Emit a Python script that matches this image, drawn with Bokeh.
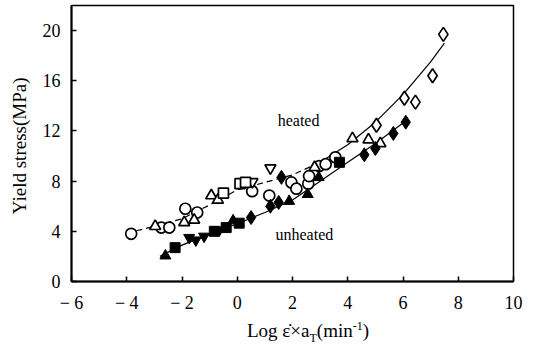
from bokeh.plotting import figure
from bokeh.models import Range1d, FixedTicker, Label, Div
from bokeh.layouts import column
from bokeh.embed import file_html
from bokeh.resources import INLINE

# ---- data ----
x_ticks = [-6, -4, -2, 0, 2, 4, 6, 8, 10]
y_ticks = [0, 4, 8, 12, 16, 20]

# heated (open markers)
heated_circle_x = [-3.84, -2.75, -2.46, -1.88, -1.45, 0.54, 1.16, 1.96, 2.14, 2.57, 2.6, 2.97, 3.2, 3.55]
heated_circle_y = [3.8, 4.3, 4.3, 5.8, 5.5, 7.2, 6.85, 7.9, 7.4, 7.8, 8.4, 9.2, 9.35, 9.9]
heated_tri_x = [-2.97, -1.92, -1.56, -0.94, -0.7, 2.8, 4.17, 4.75, 5.18]
heated_tri_y = [4.4, 4.7, 4.9, 6.85, 6.5, 9.1, 11.4, 11.3, 11.0]
heated_itri_x = [0.55, 1.2]
heated_itri_y = [7.95, 9.05]
heated_sq_x = [-0.5, 0.1, 0.3]
heated_sq_y = [7.05, 7.8, 7.9]
heated_dia_x = [5.04, 6.05, 6.45, 7.07, 7.46]
heated_dia_y = [12.45, 14.6, 14.3, 16.4, 19.7]

# unheated (filled markers)
unheated_tri_x = [-2.6, -0.15, 1.88, 2.55, 2.95]
unheated_tri_y = [2.05, 4.85, 6.4, 6.95, 8.3]
unheated_sq_x = [-2.25, -0.83, -0.4, 0.07, 3.7]
unheated_sq_y = [2.7, 4.0, 4.3, 4.65, 9.5]
unheated_itri_x = [-1.74, -1.5, -1.2, -0.65]
unheated_itri_y = [3.5, 3.3, 3.6, 4.1]
unheated_dia_x = [0.5, 1.2, 1.5, 1.6, 4.6, 5.0, 5.65, 6.1]
unheated_dia_y = [5.1, 6.0, 6.3, 8.3, 10.1, 10.6, 11.8, 12.7]

# fitted curves
heated_curve_x = [-4, -3, -2, -1, 0, 1, 2, 3, 4, 5, 6, 7, 7.5]
heated_curve_y = [3.85, 4.4, 5.0, 6.1, 7.3, 7.9, 8.5, 9.5, 10.9, 12.7, 14.9, 17.5, 19.0]
unheated_curve_x = [-2.8, -2, -1, 0, 1, 2, 3, 4, 5, 6.1]
unheated_curve_y = [2.0, 2.9, 3.8, 4.6, 5.5, 6.5, 8.0, 9.5, 11.0, 12.8]

FONT = "Liberation Serif"

p = figure(width=533, height=315, output_backend="svg", toolbar_location=None,
           x_range=Range1d(-6, 10), y_range=Range1d(0, 22))
p.min_border_left = 71
p.min_border_right = 20
p.min_border_top = 5
p.min_border_bottom = 33
p.background_fill_color = "white"
p.border_fill_color = "white"
p.grid.visible = False
p.outline_line_color = "black"
p.outline_line_width = 1.5

p.axis.axis_line_width = 2
p.axis.axis_line_color = "black"
p.axis.major_tick_in = 5
p.axis.major_tick_out = 0
p.axis.major_tick_line_width = 1.5
p.axis.minor_tick_line_color = None
p.axis.major_label_text_font = FONT
p.axis.major_label_text_font_size = "18px"
p.axis.major_label_text_color = "black"

p.xaxis.ticker = FixedTicker(ticks=x_ticks)
p.yaxis.ticker = FixedTicker(ticks=y_ticks)
p.xaxis.major_label_overrides = {t: ("\u2212 " + str(-t) if t < 0 else str(t)) for t in x_ticks}
p.xaxis.major_label_standoff = 11
p.yaxis.major_label_standoff = 11

p.yaxis.axis_label = "Yield  stress(MPa)"
p.yaxis.axis_label_text_font = FONT
p.yaxis.axis_label_text_font_size = "19px"
p.yaxis.axis_label_text_font_style = "normal"
p.yaxis.axis_label_text_color = "black"
p.yaxis.axis_label_standoff = 10

# curves
split = 8  # heated curve drawn dashed up to x=3
p.line(heated_curve_x[:split], heated_curve_y[:split], line_color="black", line_width=1.2, line_dash="6 4")
p.line(heated_curve_x[split - 1:], heated_curve_y[split - 1:], line_color="black", line_width=1.2)
p.line(unheated_curve_x, unheated_curve_y, line_color="black", line_width=1.2)

S = 11
LW = 1.7
p.scatter(heated_circle_x, heated_circle_y, marker="circle", size=S, fill_color="white", line_color="black", line_width=LW)
p.scatter(heated_tri_x, heated_tri_y, marker="triangle", size=S, fill_color="white", line_color="black", line_width=LW)
p.scatter(heated_itri_x, heated_itri_y, marker="inverted_triangle", size=S, fill_color="white", line_color="black", line_width=LW)
p.scatter(heated_sq_x, heated_sq_y, marker="square", size=S - 1, fill_color="white", line_color="black", line_width=LW)
p.scatter(heated_dia_x, heated_dia_y, marker="diamond", size=S + 3, fill_color="white", line_color="black", line_width=LW)

p.scatter(unheated_tri_x, unheated_tri_y, marker="triangle", size=S, fill_color="black", line_color="black")
p.scatter(unheated_sq_x, unheated_sq_y, marker="square", size=S - 1, fill_color="black", line_color="black")
p.scatter(unheated_itri_x, unheated_itri_y, marker="inverted_triangle", size=S, fill_color="black", line_color="black")
p.scatter(unheated_dia_x, unheated_dia_y, marker="diamond", size=S + 3, fill_color="black", line_color="black")

p.add_layout(Label(x=2.22, y=12.8, text="heated", text_font=FONT, text_font_size="16px",
                   text_align="center", text_baseline="middle", text_color="black"))
p.add_layout(Label(x=2.43, y=3.73, text="unheated", text_font=FONT, text_font_size="16px",
                   text_align="center", text_baseline="middle", text_color="black"))

# x axis title with subscript T and superscript -1
xlabel = Div(
    text=("<div style=\"font-family:'Liberation Serif',serif;font-size:19px;line-height:22px;"
          "color:black;padding-left:247px;white-space:nowrap;\">"
          "Log \u03b5\u0307\u00d7a<sub style=\"font-size:12px;\">T</sub>"
          "(min<sup style=\"font-size:12px;\">-1</sup>)</div>"),
    width=533, height=30, margin=(0, 0, 0, 0))

layout = column(p, xlabel, spacing=0)
open("out.html", "w").write(file_html(layout, INLINE))
